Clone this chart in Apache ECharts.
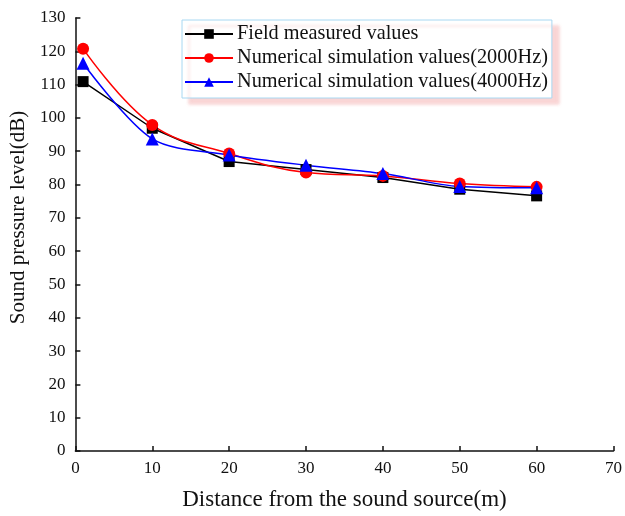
<!DOCTYPE html>
<html><head><meta charset="utf-8">
<script src="https://cdn.jsdelivr.net/npm/echarts@6/dist/echarts.min.js"></script>
<style>html,body{margin:0;padding:0;background:#fff}#c{width:625px;height:516px}</style>
</head><body><div id="c"></div>
<script>
const distances = [1, 10, 20, 30, 40, 50, 60];
const fieldMeasured = [110.9, 96.9, 86.9, 84.5, 82.1, 78.6, 76.6];
const sim2000 = [120.8, 97.9, 89.3, 83.6, 82.6, 80.3, 79.3];
const sim4000 = [116.4, 93.7, 88.9, 85.8, 83.3, 79.4, 79.0];
const seriesNames = ['Field measured values', 'Numerical simulation values(2000Hz)', 'Numerical simulation values(4000Hz)'];

const font = '"Liberation Serif","Times New Roman",serif';
const pair = (ys) => distances.map((x, i) => [x, ys[i]]);

const chart = echarts.init(document.getElementById('c'));
chart.setOption({
  animation: false,
  grid: {left: 74, right: 11, top: 18, bottom: 63},
  legend: {
    orient: 'vertical', left: 182, top: 20,
    itemWidth: 48, itemHeight: 12, itemGap: 4,
    padding: [4, 4, 6, 2],
    borderColor: '#a8d8f2', borderWidth: 1, backgroundColor: '#fff',
    shadowColor: 'rgba(245,185,185,0.6)', shadowOffsetX: 7, shadowOffsetY: 6, shadowBlur: 3,
    textStyle: {fontFamily: font, fontSize: 20.3, color: '#111', padding: [0,0,0,-1]},
    data: seriesNames
  },
  xAxis: {
    type: 'value', min: 0, max: 70, interval: 10,
    name: 'Distance from the sound source(m)', nameLocation: 'middle', nameGap: 37,
    nameTextStyle: {fontFamily: font, fontSize: 23, color: '#111'},
    axisLine: {lineStyle: {color: '#111', width: 1.5}},
    axisTick: {inside: true, length: 5, lineStyle: {color: '#111', width: 1.5}},
    axisLabel: {fontFamily: font, fontSize: 17, color: '#111', margin: 9},
    splitLine: {show: false}
  },
  yAxis: {
    type: 'value', min: 0, max: 130, interval: 10,
    name: 'Sound pressure level(dB)', nameLocation: 'middle', nameGap: 41,
    nameTextStyle: {fontFamily: font, fontSize: 21, color: '#111', padding: [0, 0, 0, 34]},
    axisLine: {show: true, lineStyle: {color: '#111', width: 1.5}},
    axisTick: {show: true, inside: true, length: 5, lineStyle: {color: '#111', width: 1.5}},
    axisLabel: {fontFamily: font, fontSize: 17, color: '#111', margin: 10},
    splitLine: {show: false}
  },
  series: [
    {name: seriesNames[0], type: 'line', data: pair(fieldMeasured), symbol: 'rect', symbolSize: 11,
     itemStyle: {color: '#000'}, lineStyle: {color: '#000', width: 1.5}},
    {name: seriesNames[1], type: 'line', data: pair(sim2000), symbol: 'circle', symbolSize: 12, smooth: 0.4,
     itemStyle: {color: '#ff0000'}, lineStyle: {color: '#ff0000', width: 1.5}},
    {name: seriesNames[2], type: 'line', data: pair(sim4000), symbol: 'triangle', symbolSize: 13, smooth: 0.3,
     itemStyle: {color: '#0000ff'}, lineStyle: {color: '#0000ff', width: 1.5}}
  ]
});
</script></body></html>
